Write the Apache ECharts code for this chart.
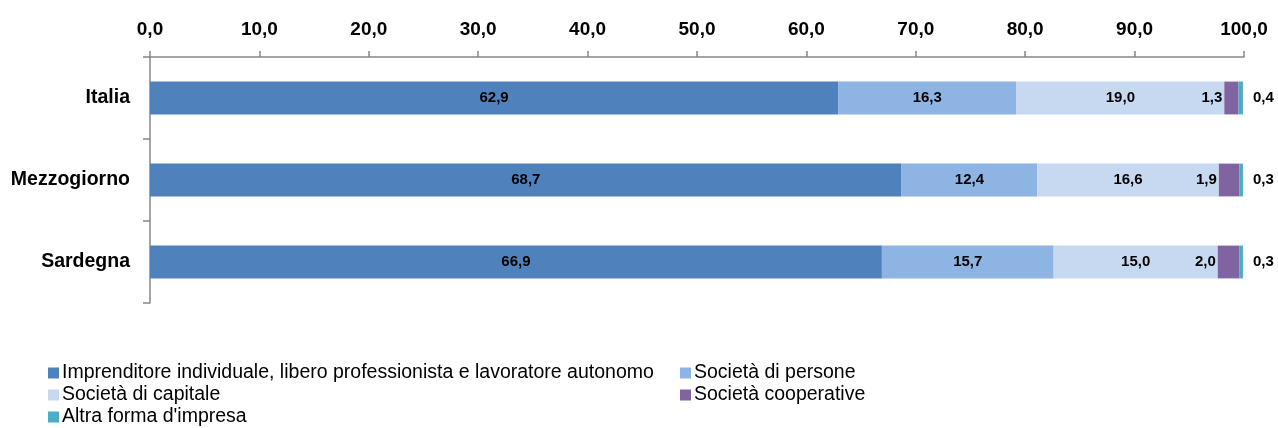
<!DOCTYPE html>
<html><head><meta charset="utf-8">
<script src="https://cdn.jsdelivr.net/npm/echarts@6/dist/echarts.min.js"></script>
<style>html,body{margin:0;padding:0;background:#fff}#c{width:1278px;height:428px}</style>
</head><body><div id="c"></div>
<script>
const categories = ['Italia', 'Mezzogiorno', 'Sardegna'];
const seriesNames = ['Imprenditore individuale, libero professionista e lavoratore autonomo', 'Società di persone', 'Società di capitale', 'Società cooperative', "Altra forma d'impresa"];
const individuale = [62.9, 68.7, 66.9];
const persone = [16.3, 12.4, 15.7];
const capitale = [19.0, 16.6, 15.0];
const cooperative = [1.3, 1.9, 2.0];
const altra = [0.4, 0.3, 0.3];
const colors = ['#4F81BD', '#8EB4E3', '#C6D9F1', '#8064A2', '#4BACC6'];

const FONT = "'Liberation Sans Narrow', 'Arial Narrow', 'Liberation Sans', Arial, sans-serif";
const fmt = v => v.toFixed(1).replace('.', ',');
const allData = [individuale, persone, capitale, cooperative, altra];
const positions = ['inside', 'inside', 'inside', 'left', 'right'];
const distances = [5, 5, 5, 2, 10];

const legendText = {fontFamily: FONT, fontSize: 19.5, lineHeight: 20, color: '#000', padding: [0, 0, 0, -2]};

const chart = echarts.init(document.getElementById('c'), null, {renderer: 'canvas'});
chart.setOption({
  animation: false,
  textStyle: {fontFamily: FONT},
  grid: {left: 150, right: 34, top: 57, bottom: 125},
  xAxis: {
    type: 'value', position: 'top', min: 0, max: 100, interval: 10,
    axisLine: {show: true, lineStyle: {color: '#888', width: 1.5}},
    axisTick: {show: true, length: 6, lineStyle: {color: '#888', width: 1.5}},
    splitLine: {show: false},
    axisLabel: {formatter: v => fmt(v), fontFamily: FONT, fontWeight: 'bold', fontSize: 19, color: '#000', margin: 18}
  },
  yAxis: {
    type: 'category', data: categories, inverse: true,
    axisLine: {show: true, lineStyle: {color: '#888', width: 1.5}},
    axisTick: {show: true, length: 7, lineStyle: {color: '#888', width: 1.5}},
    axisLabel: {fontFamily: FONT, fontWeight: 'bold', fontSize: 19.5, color: '#000', margin: 20, padding: [4, 0, 0, 0]}
  },
  legend: [
    {orient: 'vertical', left: 48, top: 363, padding: 0, itemWidth: 11, itemHeight: 11, itemGap: 2,
     data: [seriesNames[0], seriesNames[2], seriesNames[4]],
     textStyle: legendText, icon: 'rect'},
    {orient: 'vertical', left: 680, top: 363, padding: 0, itemWidth: 11, itemHeight: 11, itemGap: 2,
     data: [seriesNames[1], seriesNames[3]],
     textStyle: legendText, icon: 'rect'}
  ],
  series: seriesNames.map((name, i) => ({
    name, type: 'bar', stack: 'tot', barWidth: '40%',
    data: allData[i],
    itemStyle: {color: colors[i]},
    label: {show: true, position: positions[i], distance: distances[i], formatter: p => fmt(p.value),
            fontFamily: FONT, fontWeight: 'bold', fontSize: 15, color: '#000'}
  }))
});
</script></body></html>
